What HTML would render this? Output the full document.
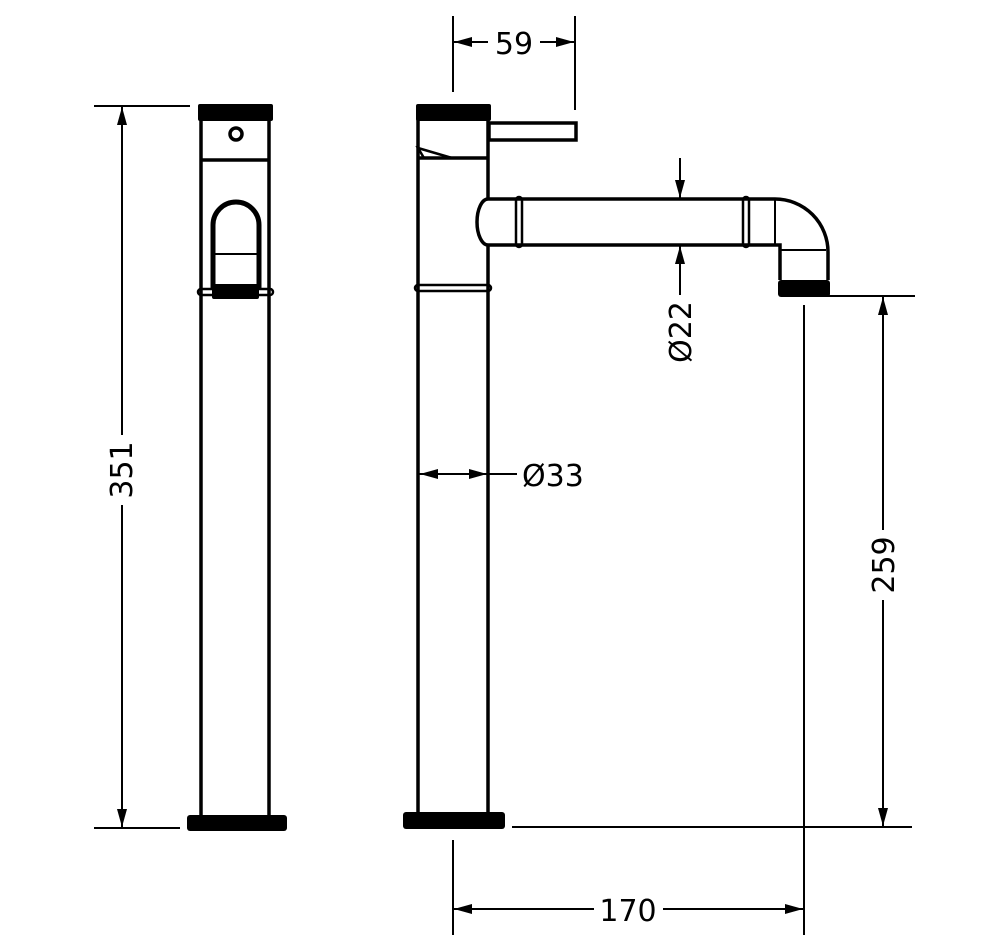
<!DOCTYPE html>
<html><head><meta charset="utf-8"><style>html,body{margin:0;padding:0;background:#fff}svg{display:block}</style></head>
<body>
<svg width="1000" height="950" viewBox="0 0 1000 950" xmlns="http://www.w3.org/2000/svg">
<g font-family="'DejaVu Sans','Liberation Sans',sans-serif" font-size="30" fill="#000">
<!-- 351 dim -->
<g stroke="#000" stroke-width="2" fill="none">
<line x1="94" y1="106" x2="190" y2="106"/>
<line x1="94" y1="828" x2="180" y2="828"/>
<line x1="122" y1="107" x2="122" y2="435"/>
<line x1="122" y1="505" x2="122" y2="827"/>
</g>
<g fill="#000">
<polygon points="122,107 117,125 127,125"/>
<polygon points="122,827 117,809 127,809"/>
</g>
<text transform="translate(132,470) rotate(-90)" text-anchor="middle">351</text>

<!-- left view -->
<g stroke="#000" stroke-width="3.5" fill="none">
<line x1="201" y1="118" x2="201" y2="815"/>
<line x1="269" y1="118" x2="269" y2="815"/>
<line x1="201" y1="160" x2="269" y2="160"/>
<circle cx="236" cy="134" r="6"/>
<path d="M213,290 L213,225 A23,23 0 0 1 259,225 L259,290" stroke-width="5"/>
<line x1="214" y1="254" x2="258" y2="254" stroke-width="2"/>
<rect x="198" y="289" width="75" height="6" rx="3" stroke-width="2.5"/>
</g>
<rect x="198" y="104" width="75" height="17" rx="2" fill="#000"/>
<rect x="212" y="284" width="47" height="15" rx="2" fill="#000"/>
<rect x="187" y="815" width="100" height="16" rx="3" fill="#000"/>

<!-- right view -->
<g stroke="#000" stroke-width="3.5" fill="none">
<line x1="418" y1="118" x2="418" y2="813"/>
<line x1="488" y1="118" x2="488" y2="199"/>
<line x1="488" y1="245" x2="488" y2="813"/>
<line x1="418" y1="158" x2="488" y2="158"/>
<path d="M418,148 L452,158 L424,158 Z" stroke-width="2.5"/>
<rect x="489" y="123" width="87" height="17"/>
<rect x="415" y="285" width="76" height="6" rx="3" stroke-width="2.5"/>
<!-- spout -->
<path d="M488,199 L775,199 A53,53 0 0 1 828,252 L828,280"/>
<path d="M488,245 L780,245 L780,280"/>
<line x1="780" y1="250" x2="826" y2="250" stroke-width="2"/>
<line x1="775" y1="199" x2="775" y2="245" stroke-width="2"/>
<path d="M488,199 A11,23 0 0 0 488,245"/>
<rect x="516" y="197" width="6" height="50" rx="3" stroke-width="2.5"/>
<rect x="743" y="197" width="6" height="50" rx="3" stroke-width="2.5"/>
</g>
<rect x="416" y="104" width="75" height="17" rx="2" fill="#000"/>
<rect x="778" y="280" width="52" height="17" rx="3" fill="#000"/>
<rect x="403" y="812" width="102" height="17" rx="3" fill="#000"/>

<!-- dims right -->
<g stroke="#000" stroke-width="2" fill="none">
<line x1="453" y1="16" x2="453" y2="92"/>
<line x1="575" y1="16" x2="575" y2="110"/>
<line x1="454" y1="42" x2="488" y2="42"/>
<line x1="540" y1="42" x2="574" y2="42"/>
<line x1="680" y1="158" x2="680" y2="198"/>
<line x1="680" y1="295" x2="680" y2="246"/>
<line x1="419" y1="474" x2="517" y2="474"/>
<line x1="805" y1="296" x2="915" y2="296"/>
<line x1="512" y1="827" x2="912" y2="827"/>
<line x1="883" y1="297" x2="883" y2="530"/>
<line x1="883" y1="600" x2="883" y2="826"/>
<line x1="453" y1="840" x2="453" y2="935"/>
<line x1="804" y1="305" x2="804" y2="935"/>
<line x1="454" y1="909" x2="594" y2="909"/>
<line x1="663" y1="909" x2="803" y2="909"/>
</g>
<g fill="#000">
<polygon points="454,42 472,37 472,47"/>
<polygon points="574,42 556,37 556,47"/>
<polygon points="680,198 675,180 685,180"/>
<polygon points="680,246 675,264 685,264"/>
<polygon points="420,474 438,469 438,479"/>
<polygon points="487,474 469,469 469,479"/>
<polygon points="883,297 878,315 888,315"/>
<polygon points="883,826 878,808 888,808"/>
<polygon points="454,909 472,904 472,914"/>
<polygon points="803,909 785,904 785,914"/>
</g>
<text x="514" y="54" text-anchor="middle">59</text>
<text x="628" y="921" text-anchor="middle">170</text>
<text x="522" y="486">Ø33</text>
<text transform="translate(691,332) rotate(-90)" text-anchor="middle">Ø22</text>
<text transform="translate(894,565) rotate(-90)" text-anchor="middle">259</text>
</g>
</svg>
</body></html>
